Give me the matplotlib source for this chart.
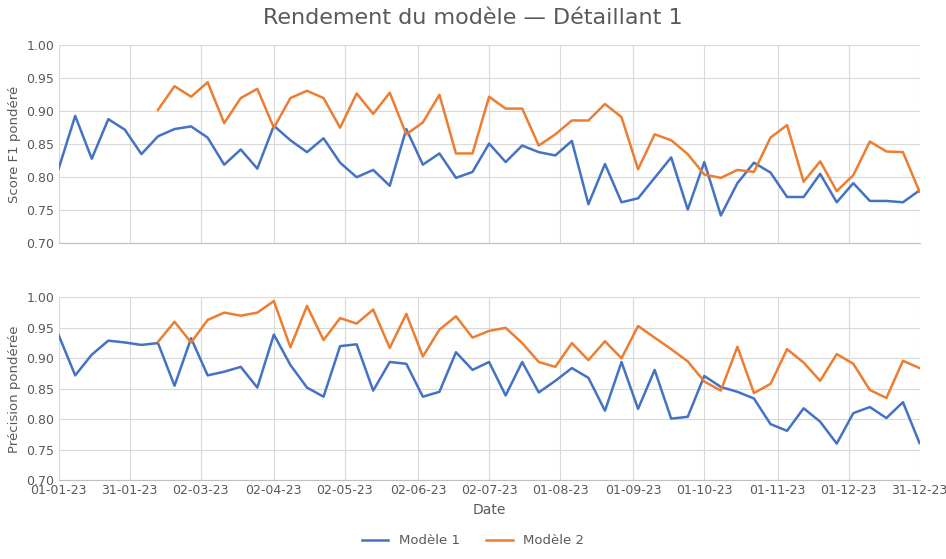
import matplotlib
matplotlib.use("Agg")
import matplotlib.pyplot as plt
import pandas as pd
import numpy as np

dates = pd.date_range("2023-01-01", periods=53, freq="7D")
f1_m1 = [0.813,0.893,0.828,0.888,0.872,0.835,0.862,0.873,0.877,0.860,0.819,0.842,0.813,0.878,0.856,0.838,0.859,0.822,0.800,0.811,
         0.787,0.873,0.819,0.836,0.799,0.808,0.851,0.823,0.848,0.838,0.833,0.855,0.759,0.820,0.762,0.768,0.799,0.830,0.751,0.823,
         0.742,0.791,0.822,0.807,0.770,0.770,0.805,0.762,0.791,0.764,0.764,0.762,0.780]
f1_m2 = [np.nan]*6 + [0.902,0.938,0.922,0.944,0.882,0.920,0.934,0.875,0.920,0.931,0.920,0.875,0.927,0.896,0.928,0.865,0.883,0.925,
         0.836,0.836,0.922,0.904,0.904,0.848,0.865,0.886,0.886,0.911,0.891,0.812,0.865,0.856,0.835,0.804,0.799,0.811,0.808,0.860,
         0.879,0.793,0.824,0.779,0.803,0.854,0.839,0.838,0.778]
pr_m1 = [0.938,0.872,0.906,0.929,0.926,0.922,0.925,0.855,0.933,0.872,0.878,0.886,0.852,0.939,0.889,0.852,0.837,0.920,0.923,0.847,
         0.894,0.891,0.837,0.845,0.910,0.881,0.894,0.839,0.894,0.844,0.863,0.884,0.868,0.814,0.894,0.817,0.881,0.801,0.804,0.871,
         0.853,0.845,0.834,0.792,0.781,0.818,0.796,0.760,0.810,0.820,0.802,0.828,0.761]
pr_m2 = [np.nan]*6 + [0.927,0.960,0.926,0.963,0.975,0.970,0.975,0.994,0.918,0.986,0.930,0.966,0.957,0.980,0.917,0.973,0.903,0.947,
         0.969,0.934,0.945,0.950,0.925,0.894,0.886,0.925,0.897,0.928,0.900,0.953,0.934,0.915,0.895,0.862,0.847,0.919,0.843,0.858,
         0.915,0.893,0.863,0.907,0.891,0.848,0.835,0.896,0.884]
tick_labels = ["01-01-23","31-01-23","02-03-23","02-04-23","02-05-23","02-06-23","02-07-23",
               "01-08-23","01-09-23","01-10-23","01-11-23","01-12-23","31-12-23"]
tick_dates = pd.to_datetime(tick_labels, format="%d-%m-%y")

blue, orange = "#4472C4", "#ED7D31"
fig = plt.figure(figsize=(9.46, 5.59), dpi=100)
ax1 = fig.add_axes([0.062, 0.565, 0.91, 0.354])
ax2 = fig.add_axes([0.062, 0.141, 0.91, 0.327])
for ax, m1, m2, lab in [(ax1, f1_m1, f1_m2, "Score F1 pondéré"), (ax2, pr_m1, pr_m2, "Précision pondérée")]:
    ax.plot(dates, m1, color=blue, lw=1.8, label="Modèle 1")
    ax.plot(dates, m2, color=orange, lw=1.8, label="Modèle 2")
    ax.set_ylim(0.70, 1.00)
    ax.set_yticks(np.arange(0.70, 1.001, 0.05))
    ax.set_yticklabels([f"{v:.2f}" for v in np.arange(0.70, 1.001, 0.05)])
    ax.set_xlim(tick_dates[0], tick_dates[-1])
    ax.set_xticks(tick_dates)
    ax.grid(True, color="#D9D9D9", lw=0.8)
    ax.set_axisbelow(True)
    for s in ["top", "right", "left"]:
        ax.spines[s].set_visible(False)
    ax.spines["bottom"].set_color("#BFBFBF")
    ax.tick_params(length=0, colors="#595959", labelsize=9, pad=3)
    ax.set_ylabel(lab, color="#595959", fontsize=9.5, labelpad=4)
ax1.set_xticklabels([])
ax2.set_xticklabels(tick_labels)
ax2.set_xlabel("Date", color="#595959", fontsize=10)
fig.suptitle("Rendement du modèle — Détaillant 1", y=0.985, fontsize=16, color="#595959")
h, l = ax2.get_legend_handles_labels()
fig.legend(h, l, loc="lower center", ncol=2, frameon=False, fontsize=9.5, bbox_to_anchor=(0.5, 0.0), labelcolor="#595959")
fig.savefig("out.png", dpi=100)
